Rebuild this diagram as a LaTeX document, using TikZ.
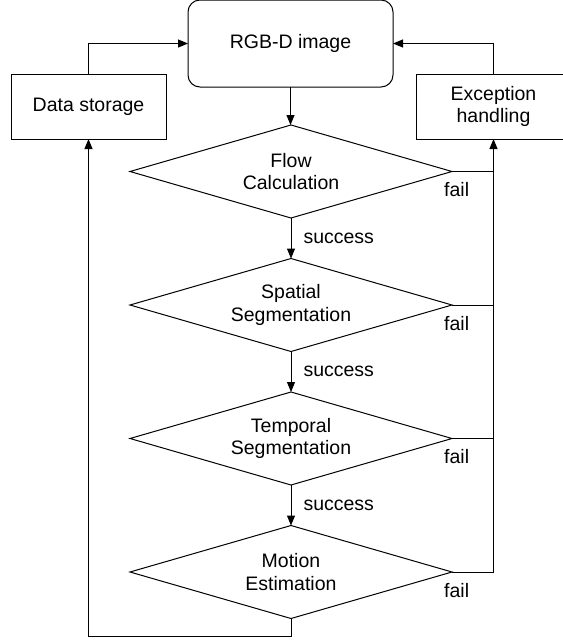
\documentclass[tikz,border=0pt]{standalone}
\usepackage{fontspec}
\setmainfont{Liberation Sans}
\usetikzlibrary{arrows.meta,positioning,shapes.geometric}
\tikzset{
  base/.style={draw, line width=1pt, align=center, font=\fontsize{19.5}{22.5}\selectfont, inner sep=0pt, outer sep=0pt},
  startbox/.style={base, rounded corners=12pt, minimum width=205pt, minimum height=87pt},
  sidebox/.style={base, minimum width=155pt, minimum height=65pt},
  decision/.style={base, diamond, aspect=3.4, minimum width=322pt, minimum height=93pt},
  arrow/.style={-{Triangle[length=10pt, width=8pt]}, line width=1pt},
  line/.style={line width=1pt},
  lbl/.style={font=\fontsize{19.5}{22.5}\selectfont, inner sep=0pt}
}

\begin{document}
\begin{tikzpicture}[x=1pt, y=1pt, node distance=40.5pt]
  \useasboundingbox (0,0) rectangle (563,-641);
  \clip (0,0) rectangle (563,-641);
  \node[startbox] (rgb) at (290.5,-43.5) {RGB-D image};
  \node[sidebox] (store) at (88.5,-106.5) {Data storage};
  \node[sidebox] (exc) at (493.5,-106.5) {Exception\\handling};
  \node[decision] (flow) at (291,-171.5) {Flow\\Calculation};
  \node[decision, below=of flow] (spatial) {Spatial\\Segmentation};
  \node[decision, below=of spatial] (temporal) {Temporal\\Segmentation};
  \node[decision, below=of temporal] (motion) {Motion\\Estimation};
  % main flow
  \draw[arrow] (rgb) -- (rgb.south |- flow.north);
  \draw[arrow] (flow) -- node[lbl, right=12pt] {success} (spatial);
  \draw[arrow] (spatial) -- node[lbl, right=12pt] {success} (temporal);
  \draw[arrow] (temporal) -- node[lbl, right=12pt] {success} (motion);
  % fail branches
  \foreach \d in {flow, spatial, temporal} {
    \draw[line] (\d.east) -- (\d.east -| exc.south);
    \node[lbl, anchor=north west] at ([xshift=-8pt, yshift=-11pt]\d.east) {fail};
  }
  \draw[arrow] (motion.east) -| (exc.south);
  \node[lbl, anchor=north west] at ([xshift=-8pt, yshift=-11pt]motion.east) {fail};
  % loops back to the input
  \draw[arrow] (motion.south) -- ++(0,-18) -| (store.south);
  \draw[arrow] (store.north) |- (rgb.west);
  \draw[arrow] (exc.north) |- (rgb.east);
\end{tikzpicture}
\end{document}
